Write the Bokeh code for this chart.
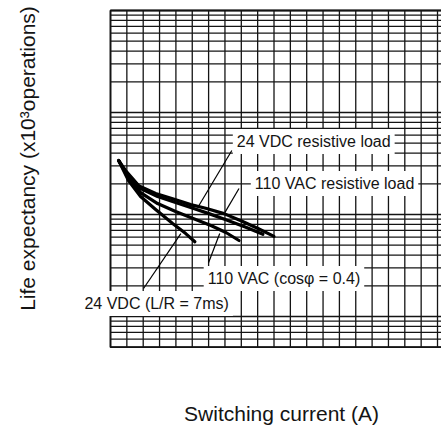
from bokeh.plotting import figure
from bokeh.models import Range1d, Label
from bokeh.embed import file_html
from bokeh.resources import INLINE

# ---- grid values (no tick labels shown in the original) ----
x_grid = [0, 0.5, 1, 1.5, 2, 2.5, 3, 3.5, 4, 4.5, 5, 5.5, 6, 6.5, 7, 7.5, 8, 8.5, 9, 9.5, 10]
y_grid = [5, 6, 7, 8, 9,
          10, 20, 30, 40, 50, 60, 70, 80, 90,
          100, 200, 300, 400, 500, 600, 700, 800, 900,
          1000, 2000, 3000, 4000, 5000, 6000, 7000, 8000, 9000, 10000]

# chart box limits (current in A, life in x10^3 operations)
X_MIN, X_MAX, X_EDGE = 0, 10, 10.12
Y_MIN, Y_MAX = 5, 10000

# ---- curves: switching current (A) vs life expectancy (x10^3 operations) ----
vdc24_res_x = [0.25, 0.46, 0.86, 1.38, 1.90, 2.45, 2.91, 3.47, 3.99, 4.51, 5.0]
vdc24_res_y = [338, 270, 192, 161, 143, 125, 115, 102, 87, 73, 61]

vac110_res_x = [0.25, 0.49, 0.92, 1.44, 1.99, 2.52, 3.01, 3.53, 4.14, 4.66]
vac110_res_y = [338, 252, 180, 150, 131, 115, 102, 89, 75, 64]

vac110_ind_x = [0.25, 0.52, 0.92, 1.44, 1.99, 2.45, 3.07, 3.53, 3.93]
vac110_ind_y = [338, 236, 164, 128, 107, 93.5, 78, 66.6, 55.6]

vdc24_ind_x = [0.25, 0.55, 0.92, 1.38, 1.90, 2.30, 2.58]
vdc24_ind_y = [338, 215, 150, 112, 81.6, 65, 54]

# ---- annotation labels and leader lines ----
labels = ["24 VDC resistive load", "110 VAC resistive load",
          "110 VAC (cos\u03c6 = 0.4)", "24 VDC (L/R = 7ms)"]
label_x = [3.74, 4.29, 2.85, -0.92]
label_y = [520, 201, 23.6, 13.4]

lead_x0 = [3.71, 3.93, 3.34, 1.01]
lead_y0 = [424, 180, 65, 18.8]
lead_x1 = [2.70, 3.50, 3.00, 2.15]
lead_y1 = [122, 105, 33.8, 65]

FONT = "Liberation Sans"
INK = "#141414"

p = figure(width=441, height=441, output_backend="svg", toolbar_location=None,
           y_axis_type="log", x_range=Range1d(-3.364, 10.122),
           y_range=Range1d(0.595, 12533),
           min_border_left=0, min_border_right=0, min_border_top=0,
           min_border_bottom=0)
p.axis.visible = False
p.grid.visible = False
p.outline_line_color = None
p.background_fill_color = "white"
p.border_fill_color = "white"

# grid of the chart box
p.segment(x0=x_grid, y0=[Y_MIN] * len(x_grid), x1=x_grid, y1=[Y_MAX] * len(x_grid),
          line_color=INK, line_width=1.3)
p.segment(x0=[X_MIN] * len(y_grid), y0=y_grid, x1=[X_EDGE] * len(y_grid), y1=y_grid,
          line_color=INK, line_width=1.3)
# box border (left, top, bottom)
p.line([X_EDGE, X_MIN, X_MIN, X_EDGE], [Y_MAX, Y_MAX, Y_MIN, Y_MIN],
       line_color=INK, line_width=1.8)

for xs, ys in [(vdc24_res_x, vdc24_res_y), (vac110_res_x, vac110_res_y),
               (vac110_ind_x, vac110_ind_y), (vdc24_ind_x, vdc24_ind_y)]:
    p.line(xs, ys, line_color="black", line_width=3.2, line_join="round", line_cap="round")

p.segment(x0=lead_x0, y0=lead_y0, x1=lead_x1, y1=lead_y1, line_color="black", line_width=1.2)

for t, lx, ly in zip(labels, label_x, label_y):
    p.add_layout(Label(x=lx, y=ly, text=t, text_font=FONT, text_font_size="16px",
                       text_color=INK, text_align="left", text_baseline="middle",
                       background_fill_color="white", padding=4))

p.add_layout(Label(x=-2.54, y=354, text="Life expectancy (x10\u00b3operations)",
                   text_font=FONT, text_font_size="21px", text_color=INK,
                   angle=90, angle_units="deg", text_align="center", text_baseline="middle"))
p.add_layout(Label(x=5.23, y=1.12, text="Switching current (A)",
                   text_font=FONT, text_font_size="21px", text_color=INK,
                   text_align="center", text_baseline="middle"))

open("out.html", "w").write(file_html(p, INLINE))
